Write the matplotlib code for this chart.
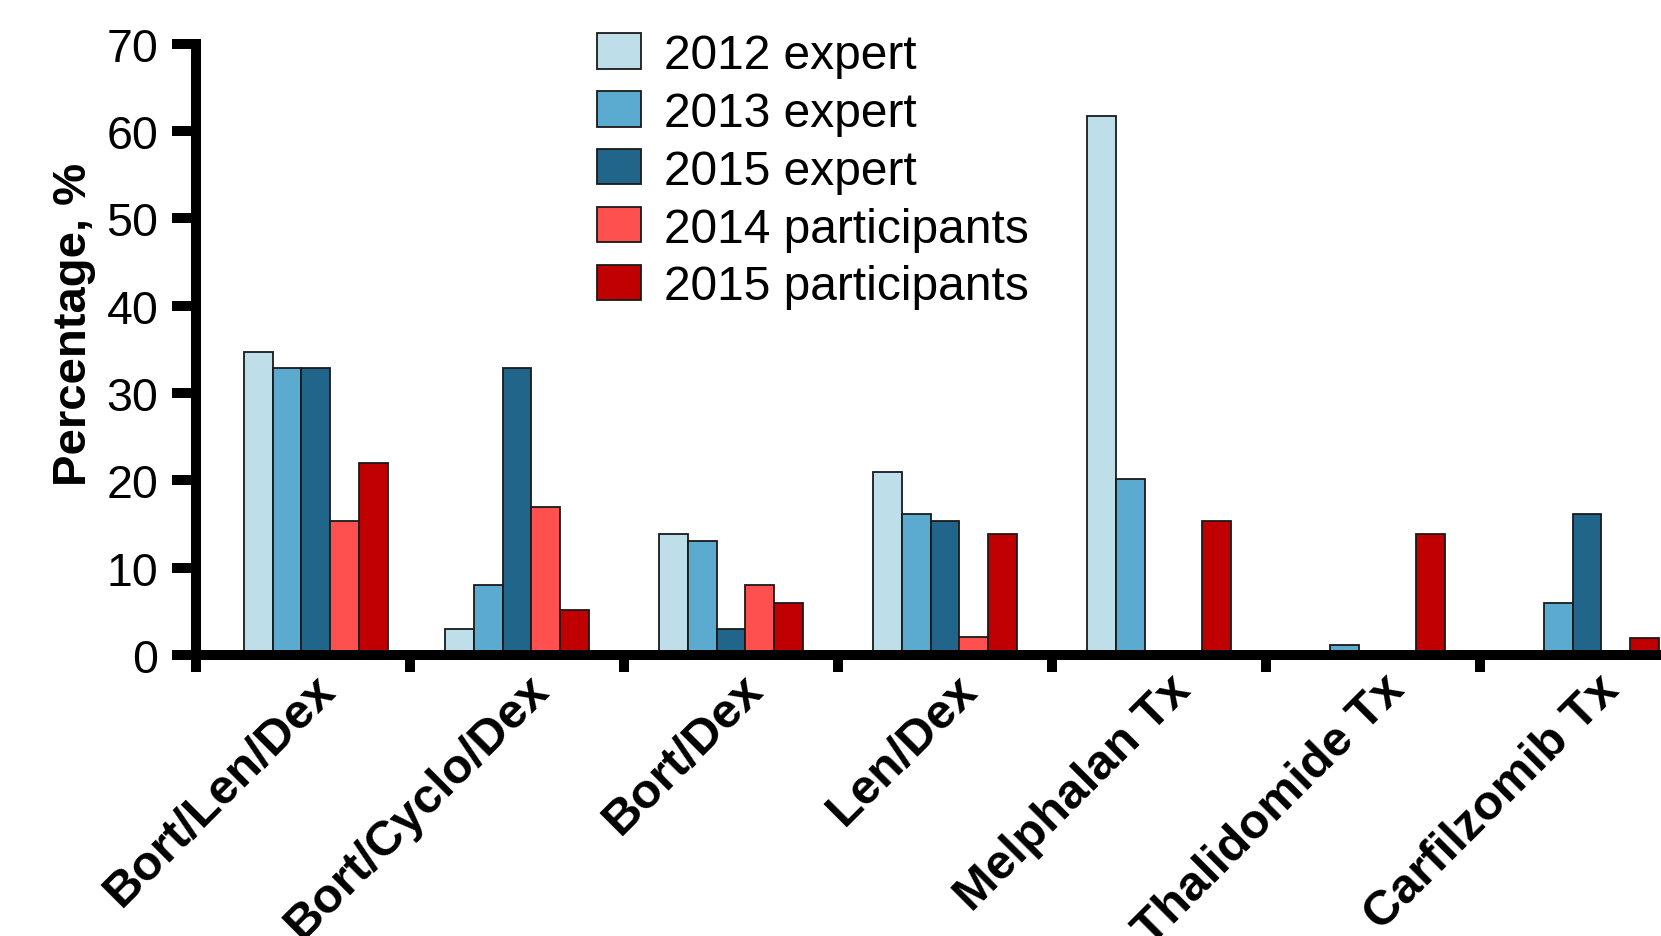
import numpy as np
import matplotlib.pyplot as plt
from matplotlib.ticker import FixedLocator
from matplotlib.transforms import ScaledTranslation

plt.rcParams['font.family'] = ['Liberation Sans', 'DejaVu Sans']

# ======================
# DATA
# ======================
categories = ["Bort/Len/Dex", "Bort/Cyclo/Dex", "Bort/Dex", "Len/Dex",
              "Melphalan Tx", "Thalidomide Tx", "Carfilzomib Tx"]
series_names = ["2012 expert", "2013 expert", "2015 expert",
                "2014 participants", "2015 participants"]
expert_2012 = [34.7, 3.0, 13.8, 20.9, 61.7, 0, 0]
expert_2013 = [32.8, 8.0, 13.0, 16.1, 20.2, 1.2, 6.0]
expert_2015 = [32.8, 32.8, 3.0, 15.3, 0, 0, 16.1]
particip_2014 = [15.3, 16.9, 8.0, 2.1, 0, 0, 0]
particip_2015 = [22.0, 5.2, 6.0, 13.8, 15.3, 13.8, 2.0]
colors = ["#BEDEEA", "#5BAAD0", "#21668A", "#FF5050", "#C00000"]

# ======================
# FIGURE
# ======================
fig = plt.figure(figsize=(16.61, 9.37), dpi=100)
ax = fig.add_axes([0.118, 0.2999, 0.882, 0.6526])

x = np.arange(len(categories), dtype=float)
bar_x = x.copy()
bar_x[0] += 0.06   # first group sits a bit right in the original
w = 0.134
all_series = [expert_2012, expert_2013, expert_2015, particip_2014, particip_2015]
for i, (vals, name, col) in enumerate(zip(all_series, series_names, colors)):
    ax.bar(bar_x + (i - 2) * w, vals, w, color=col, edgecolor="#1a1a1a",
           linewidth=1.3, label=name, zorder=2)

ax.set_xlim(-0.5, 6.346)
ax.set_ylim(0, 70)

for s in ["top", "right"]:
    ax.spines[s].set_visible(False)
for s in ["left", "bottom"]:
    ax.spines[s].set_linewidth(7.2)
    ax.spines[s].set_zorder(3)

ax.set_yticks(np.arange(0, 71, 10))
ax.tick_params(axis="y", length=17, width=7.2, labelsize=33.5, pad=10)

ax.set_xticks(x)
ax.set_xticklabels(categories, rotation=45, ha="right", rotation_mode="anchor",
                   fontsize=35.5, fontweight="bold")
ax.tick_params(axis="x", which="major", length=0, pad=8)
shift = ScaledTranslation(9 / 100, 0, fig.dpi_scale_trans)
for lbl in ax.get_xticklabels():
    lbl.set_transform(lbl.get_transform() + shift)
ax.xaxis.set_minor_locator(FixedLocator(np.arange(-0.5, 6.5, 1)))
ax.tick_params(axis="x", which="minor", length=12, width=7.2)

ax.set_ylabel("Percentage, %", fontsize=34, fontweight="bold")
ax.yaxis.set_label_coords(-0.068, 0.543)

ax.legend(loc="upper left", bbox_to_anchor=(597 / 1661, 0.964),
          bbox_transform=fig.transFigure, frameon=False, fontsize=34.5,
          handlelength=0.92, handleheight=0.75, handletextpad=0.48,
          labelspacing=0.27, borderpad=0, borderaxespad=0)

fig.savefig("out.png", dpi=100)
